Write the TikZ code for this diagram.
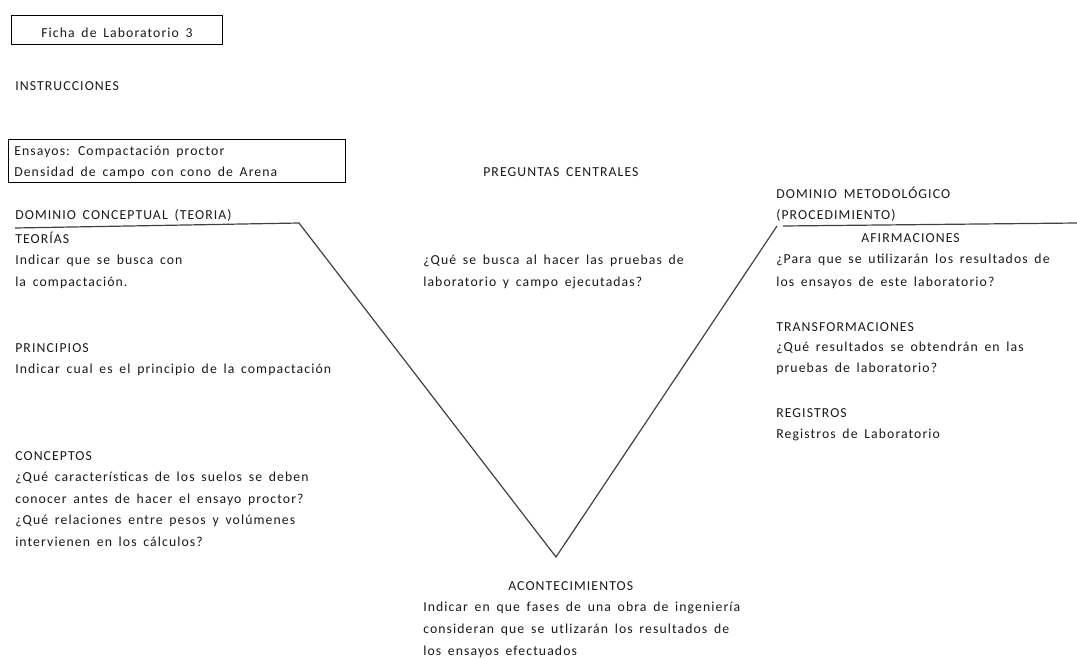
\documentclass[tikz,border=0pt]{standalone}
\usepackage{fontspec}
\setmainfont{Carlito}[LetterSpace=8,WordSpace=1.6]
\begin{document}
\begin{tikzpicture}[x=0.75pt,y=-0.75pt,
  txt/.style={anchor=base west,inner sep=0pt,font=\fontsize{10.3}{12}\selectfont,text=black!90},
  frame/.style={draw=black,line width=0.7pt},
  vline/.style={draw=black!75,line width=0.9pt}]
\useasboundingbox (0,0) rectangle (1077,657);
% title box
\node[frame,minimum width=211*0.75pt,minimum height=29*0.75pt,inner sep=0pt] (fbox) at (116.5,29.5) {};
\node[txt,anchor=base] (ficha) at (117,37) {Ficha de Laboratorio 3};
\node[txt] (instr) at (15,90) {INSTRUCCIONES};
% ensayos box
\node[frame,minimum width=337*0.75pt,minimum height=43*0.75pt,inner sep=0pt] (ebox) at (176.5,160.5) {};
\node[txt] (ens1) at (14,155) {Ensayos: Compactación proctor};
\node[txt] (ens2) at (14,176) {Densidad de campo con cono de Arena};
\node[txt] (preg) at (483,176) {PREGUNTAS CENTRALES};
% left
\node[txt] (dcon) at (15,219) {DOMINIO CONCEPTUAL (TEORIA)};
\node[txt] (teo) at (15,243) {TEORÍAS};
\node[txt] (teo1) at (15,264) {Indicar que se busca con};
\node[txt] (teo2) at (15,286) {la compactación.};
\node[txt] (prin) at (15,352) {PRINCIPIOS};
\node[txt] (prin1) at (15,373) {Indicar cual es el principio de la compactación};
\node[txt] (conc) at (15,460) {CONCEPTOS};
\node[txt] (conc1) at (15,481) {¿Qué características de los suelos se deben};
\node[txt] (conc2) at (15,503) {conocer antes de hacer el ensayo proctor?};
\node[txt] (conc3) at (15,524) {¿Qué relaciones entre pesos y volúmenes};
\node[txt] (conc4) at (15,546) {intervienen en los cálculos?};
% center
\node[txt] (cen1) at (423,264) {¿Qué se busca al hacer las pruebas de};
\node[txt] (cen2) at (423,286) {laboratorio y campo ejecutadas?};
% right
\node[txt] (dmet) at (776,198) {DOMINIO METODOLÓGICO};
\node[txt] (dmet2) at (776,219) {(PROCEDIMIENTO)};
\node[txt] (afir) at (861,242) {AFIRMACIONES};
\node[txt] (afir1) at (776,263) {¿Para que se utilizarán los resultados de};
\node[txt] (afir2) at (776,286) {los ensayos de este laboratorio?};
\node[txt] (tran) at (776,331) {TRANSFORMACIONES};
\node[txt] (tran1) at (776,351) {¿Qué resultados se obtendrán en las};
\node[txt] (tran2) at (776,372) {pruebas de laboratorio?};
\node[txt] (reg) at (776,417) {REGISTROS};
\node[txt] (reg1) at (776,438) {Registros de Laboratorio};
% bottom
\node[txt] (acon) at (508,590) {ACONTECIMIENTOS};
\node[txt] (acon1) at (423,611) {Indicar en que fases de una obra de ingeniería};
\node[txt] (acon2) at (423,633) {consideran que se utlizarán los resultados de};
\node[txt] (acon3) at (423,655) {los ensayos efectuados};
% V diagram
\coordinate (l0) at (15,228);
\coordinate (l1) at (299,223);
\coordinate (vb) at (556,557);
\coordinate (r1) at (777,226);
\coordinate (r2) at (783,226);
\coordinate (r3) at (1077,223);
\draw[vline] (l0) -- (l1) -- (vb) -- (r1);
\draw[vline] (r2) -- (r3);
\end{tikzpicture}
\end{document}
